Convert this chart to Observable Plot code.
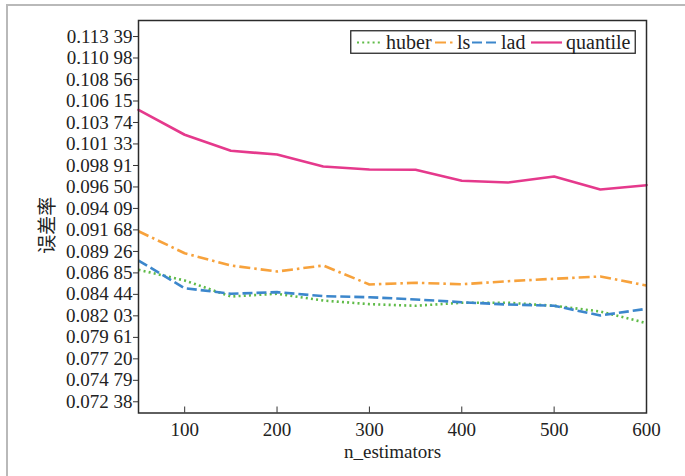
<!DOCTYPE html>
<html>
<head>
<meta charset="utf-8">
<script src="https://cdn.jsdelivr.net/npm/d3@7"></script>
<script src="https://cdn.jsdelivr.net/npm/@observablehq/plot@0.6"></script>
<style>
  html, body { margin: 0; padding: 0; background: #fff; }
  #wrap { position: relative; width: 685px; height: 476px; overflow: hidden;
          font-family: "Liberation Serif", "Noto Sans CJK SC", serif; }
  #wrap > svg.plot { position: absolute; left: 0; top: 0; }
  #border { position: absolute; left: 6px; top: 4px; width: 700px; height: 500px;
            border-top: 2px solid #b9b9b9; border-left: 2px solid #b9b9b9; }
</style>
</head>
<body>
<div id="wrap"><div id="border"></div></div>
<script>
// ---- data ----
const nEstimators = [50, 100, 150, 200, 250, 300, 350, 400, 450, 500, 550, 600];
const huber    = [0.08720, 0.08600, 0.08420, 0.08451, 0.08375, 0.08334, 0.08316, 0.08350, 0.08350, 0.08316, 0.08252, 0.08121];
const ls       = [0.09153, 0.08906, 0.08768, 0.08701, 0.08768, 0.08555, 0.08574, 0.08558, 0.08592, 0.08619, 0.08645, 0.08544];
const lad      = [0.08824, 0.08513, 0.08451, 0.08469, 0.08424, 0.08412, 0.08387, 0.08356, 0.08330, 0.08316, 0.08207, 0.08282];
const quantile = [0.10516, 0.10236, 0.10056, 0.10014, 0.09880, 0.09846, 0.09843, 0.09719, 0.09700, 0.09767, 0.09621, 0.09670];

const seriesNames  = ["huber", "ls", "lad", "quantile"];
const seriesValues = [huber, ls, lad, quantile];
const seriesColors = ["#5fbb48", "#f7a23c", "#3c87cc", "#e5398c"];
const seriesDashes = ["2,3.2", "11,4,2.5,4", "10,4", null];

const xTicks = [100, 200, 300, 400, 500, 600];
const yTicks = [0.07238, 0.07479, 0.07720, 0.07961, 0.08203, 0.08444, 0.08685, 0.08926, 0.09168,
                0.09409, 0.09650, 0.09891, 0.10133, 0.10374, 0.10615, 0.10856, 0.11098, 0.11339];
const yTickLabels = ["0.072 38", "0.074 79", "0.077 20", "0.079 61", "0.082 03", "0.084 44", "0.086 85",
                     "0.089 26", "0.091 68", "0.094 09", "0.096 50", "0.098 91", "0.101 33", "0.103 74",
                     "0.106 15", "0.108 56", "0.110 98", "0.113 39"];
const xLabel = "n_estimators";
const yLabel = "误差率";

// ---- build ----
const yLabelMap = new Map(yTicks.map((t, i) => [t, yTickLabels[i]]));
const rowsFor = (vals) => nEstimators.map((n, i) => ({n, v: vals[i]}));

const lineMarks = seriesNames.map((name, k) =>
  Plot.line(rowsFor(seriesValues[k]), {
    x: "n", y: "v",
    stroke: seriesColors[k],
    strokeWidth: 2.6,
    strokeDasharray: seriesDashes[k] || undefined,
    strokeLinejoin: "round",
    strokeLinecap: seriesDashes[k] ? "butt" : "round"
  })
);

const chart = Plot.plot({
  width: 685,
  height: 476,
  marginLeft: 138,
  marginRight: 39,
  marginTop: 20,
  marginBottom: 63.5,
  style: {fontFamily: '"Liberation Serif", "Noto Sans CJK SC", serif', fontSize: "19px", color: "#222", background: "transparent"},
  x: {domain: [50, 600]},
  y: {domain: [0.07112, 0.11519]},
  marks: [
    ...lineMarks,
    Plot.axisY({ticks: yTicks, tickFormat: d => yLabelMap.get(d), tickSize: 5, tickPadding: 1,
                label: null, fontSize: 19, stroke: "#333"}),
    Plot.axisX({ticks: xTicks, tickSize: -6, tickPadding: 15, label: null, fontSize: 19, stroke: "#333"}),
    Plot.frame({stroke: "#2b2b2b", strokeWidth: 1.5}),
    Plot.text([yLabel], {frameAnchor: "left", dx: -91, dy: 37, rotate: -90, fontSize: 19,
                         fontFamily: '"Noto Sans CJK SC", sans-serif', fill: "#222"}),
    Plot.text([xLabel], {frameAnchor: "bottom", dy: 45, fontSize: 19, fill: "#222"})
  ]
});
document.getElementById("wrap").appendChild(chart);

// ---- legend ----
const legendW = 286, legendH = 24;
const layout = [ // sample start, sample end, text x (relative to legend box)
  [7, 32, 36], [85, 105, 107], [122, 148, 151], [181, 212, 216]
];
const lg = d3.create("svg").attr("width", legendW + 2).attr("height", legendH + 2)
  .style("position", "absolute").style("left", "350px").style("top", "30px");
lg.append("rect").attr("x", 0.75).attr("y", 0.75).attr("width", legendW - 1.5).attr("height", legendH - 1.5)
  .attr("fill", "#fff").attr("stroke", "#2b2b2b").attr("stroke-width", 1.3);
seriesNames.forEach((name, k) => {
  const [s0, s1, tx] = layout[k];
  lg.append("line").attr("x1", s0).attr("x2", s1).attr("y1", 12.5).attr("y2", 12.5)
    .attr("stroke", seriesColors[k]).attr("stroke-width", 2.2)
    .attr("stroke-dasharray", seriesDashes[k]);
  lg.append("text").attr("x", tx).attr("y", 18.5).text(name)
    .attr("font-family", '"Liberation Serif", serif').attr("font-size", 20).attr("fill", "#222");
});
document.getElementById("wrap").appendChild(lg.node());
</script>
</body>
</html>
